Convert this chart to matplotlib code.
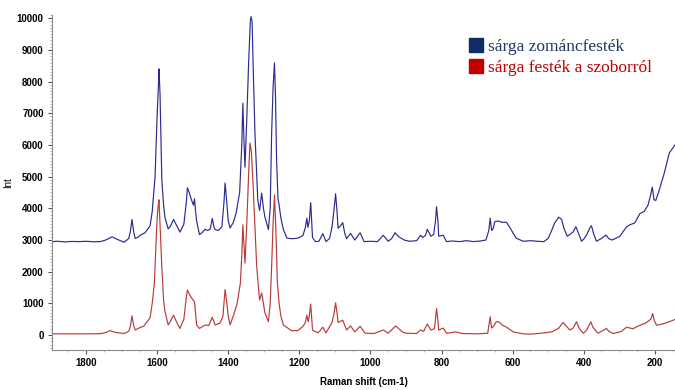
import matplotlib
matplotlib.use('Agg')
import matplotlib.pyplot as plt
from matplotlib.lines import Line2D
from matplotlib.ticker import MultipleLocator

# ── data (Raman shift in cm-1, intensity) ─────────────────────────────────────
blue_x = [1896, 1880, 1860, 1840, 1820, 1800, 1780, 1760, 1745, 1727, 1712, 1693,
          1680, 1675, 1671, 1666, 1662, 1655, 1648, 1634, 1620, 1614, 1606, 1600,
          1596, 1595, 1592, 1590, 1587, 1582, 1578, 1569, 1562, 1554, 1545, 1536,
          1525, 1518, 1515, 1510, 1503, 1498, 1495, 1492, 1489, 1481, 1472, 1465,
          1458, 1451, 1445, 1440, 1437, 1428, 1423, 1418, 1412, 1409, 1405, 1400,
          1395, 1386, 1378, 1368, 1362, 1359, 1356, 1353, 1348, 1343, 1338, 1336,
          1333, 1330, 1325, 1317, 1312, 1306, 1301, 1297, 1287, 1282, 1278, 1274,
          1270, 1267, 1264, 1260, 1257, 1252, 1245, 1235, 1220, 1204, 1190, 1183,
          1179, 1176, 1172, 1168, 1163, 1155, 1145, 1134, 1125, 1115, 1108, 1102,
          1098, 1094, 1091, 1084, 1078, 1072, 1067, 1056, 1044, 1029, 1018, 1000,
          980, 964, 950, 940, 931, 920, 905, 890, 870, 859, 853, 845, 840, 836,
          830, 822, 817, 814, 810, 808, 795, 786, 770, 750, 730, 710, 690, 675,
          667, 663, 659, 655, 650, 640, 630, 617, 607, 590, 570, 550, 530, 512,
          500, 492, 482, 470, 462, 455, 446, 430, 422, 414, 406, 398, 390, 381,
          378, 372, 364, 350, 337, 330, 321, 310, 298, 290, 279, 270, 256, 242,
          230, 219, 212, 207, 202, 197, 187, 173, 159, 143]
blue_y = [2950, 2960, 2940, 2955, 2950, 2960, 2945, 2950, 3000, 3100, 3020, 2930,
          3050, 3300, 3650, 3250, 3050, 3080, 3150, 3230, 3450, 3900, 5000, 7000,
          8000, 8400, 7600, 6500, 4900, 4100, 3700, 3350, 3450, 3650, 3450, 3250,
          3500, 4200, 4650, 4500, 4250, 4100, 4300, 3900, 3600, 3170, 3250, 3340,
          3300, 3340, 3680, 3400, 3330, 3300, 3360, 3420, 4200, 4800, 4300, 3600,
          3380, 3550, 3850, 4500, 6000, 7320, 6200, 5300, 6800, 8500, 9900, 10050,
          9900, 8500, 6380, 4270, 3930, 4480, 4000, 3730, 3330, 4000, 6380, 7800,
          8590, 7500, 5500, 4300, 4110, 3700, 3330, 3060, 3040, 3060, 3140, 3400,
          3690, 3400, 3600, 4180, 3080, 2950, 2960, 3200, 2950, 3050, 3420, 4000,
          4460, 3900, 3370, 3450, 3550, 3200, 3040, 3210, 3000, 3230, 2950, 2960,
          2950, 3150, 2960, 3050, 3230, 3100, 3000, 2960, 2980, 3150, 3080, 3150, 3340, 3250,
          3120, 3180, 3600, 4050, 3600, 3120, 3150, 2950, 2970, 2950, 2980, 2950, 2970, 3000,
          3300, 3690, 3300, 3350, 3580, 3600, 3560, 3560, 3380, 3060, 2960, 2980, 2960, 2950,
          3050, 3250, 3530, 3720, 3650, 3350, 3120, 3250, 3420, 3200, 2960, 3050, 3200, 3420,
          3450, 3200, 2960, 3050, 3160, 3050, 3000, 3050, 3120, 3250, 3420, 3480, 3540, 3830,
          3900, 4100, 4400, 4670, 4270, 4250, 4590, 5120, 5750, 6000]

red_x = [1896, 1850, 1800, 1760, 1745, 1733, 1715, 1693, 1680, 1675, 1671, 1666,
         1662, 1655, 1648, 1638, 1620, 1614, 1608, 1600, 1597, 1595, 1592, 1587,
         1582, 1578, 1569, 1562, 1554, 1545, 1536, 1525, 1518, 1515, 1510, 1503,
         1495, 1489, 1481, 1465, 1455, 1445, 1437, 1423, 1415, 1412, 1409, 1405,
         1400, 1395, 1386, 1375, 1366, 1362, 1359, 1356, 1353, 1348, 1343, 1339,
         1335, 1330, 1320, 1312, 1306, 1297, 1287, 1282, 1278, 1274, 1270, 1266,
         1262, 1257, 1252, 1245, 1222, 1205, 1190, 1183, 1179, 1175, 1172, 1168,
         1163, 1147, 1134, 1125, 1108, 1102, 1098, 1094, 1091, 1078, 1067, 1056,
         1044, 1029, 1015, 990, 964, 950, 929, 910, 900, 870, 859, 850, 840, 830,
         820, 817, 814, 810, 808, 795, 786, 760, 740, 700, 670, 663, 659, 652,
         646, 639, 627, 617, 598, 570, 550, 520, 490, 470, 458, 446, 439, 430,
         420, 412, 401, 392, 380, 374, 360, 340, 336, 329, 317, 295, 279, 262,
         244, 227, 211, 206, 201, 195, 172, 148, 143]
red_y = [40, 40, 40, 45, 80, 140, 80, 50, 120, 300, 610, 300,
         160, 200, 240, 280, 550, 1000, 1640, 3740, 4100, 4270, 3500, 2160,
         1100, 740, 320, 450, 630, 400, 210, 500, 1200, 1420, 1300, 1170,
         1050, 320, 210, 320, 300, 560, 320, 380, 600, 1000, 1440, 1100,
         600, 320, 600, 1000, 1640, 2500, 3480, 2900, 2270, 3500, 5000, 6060,
         5800, 4690, 2170, 1110, 1330, 710, 420, 1000, 2170, 3500, 4420, 3300,
         1700, 1000, 600, 320, 140, 140, 270, 400, 630, 420, 600, 980,
         160, 70, 250, 70, 400, 700, 1020, 700, 400, 470, 160, 290,
         100, 280, 60, 50, 160, 60, 290, 100, 60, 50, 160, 120, 350, 160,
         200, 500, 840, 450, 160, 220, 60, 100, 50, 40, 60, 580, 220, 300,
         420, 420, 300, 250, 100, 40, 30, 60, 100, 220, 400, 250, 160, 220,
         420, 200, 60, 150, 420, 250, 60, 180, 210, 120, 50, 110, 250, 200,
         300, 370, 500, 680, 450, 310, 370, 470, 500]

labels = ['sárga zománcfesték', 'sárga festék a szoborról']
line_colors = ['#2a2a92', '#b83a3a']
patch_colors = ['#0f2c66', '#c00000']
text_colors = ['#1f3864', '#c00000']

# ── plot ──────────────────────────────────────────────────────────────────────
fig = plt.figure(figsize=(6.75, 3.9), dpi=100, facecolor='white')
ax = fig.add_axes([52 / 675, 1 - 350 / 390, 1 - 52 / 675, (350 - 15) / 390])

ax.plot(blue_x, blue_y, color=line_colors[0], lw=0.85)
ax.plot(red_x, red_y, color=line_colors[1], lw=0.85)

ax.set_xlim(1896, 143)
ax.set_ylim(-470, 10100)

ax.xaxis.set_major_locator(MultipleLocator(200))
ax.xaxis.set_minor_locator(MultipleLocator(50))
ax.yaxis.set_major_locator(MultipleLocator(1000))
ax.yaxis.set_minor_locator(MultipleLocator(100))

for sp in ['top', 'right']:
    ax.spines[sp].set_visible(False)
for sp in ['left', 'bottom']:
    ax.spines[sp].set_color('#8a8a8a')
    ax.spines[sp].set_linewidth(0.8)

ax.tick_params(which='major', length=3, width=0.8, color='#555555', pad=3)
ax.tick_params(which='minor', length=1.5, width=0.5, color='#999999')
for lab in ax.get_xticklabels() + ax.get_yticklabels():
    lab.set_fontfamily('Liberation Sans')
    lab.set_fontweight('bold')
    lab.set_fontsize(7)

ax.set_xlabel('Raman shift (cm-1)', fontsize=7, fontweight='bold',
              family='Liberation Sans', labelpad=6)
ax.set_ylabel('Int', fontsize=7, family='Liberation Sans', labelpad=3)

handles = [Line2D([], [], linestyle='none', marker='s', markersize=10,
                  markerfacecolor=patch_colors[i], markeredgecolor=patch_colors[i])
           for i in range(2)]
fig.legend(handles, labels, loc='upper left', bbox_to_anchor=(469 / 675, 1 - 39 / 390),
           frameon=False, prop={'family': 'Liberation Serif', 'size': 12.5},
           labelcolor=text_colors, handlelength=0.8, handletextpad=0.3,
           labelspacing=0.25, borderpad=0, borderaxespad=0)

fig.savefig('out.png', dpi=100, facecolor='white')
